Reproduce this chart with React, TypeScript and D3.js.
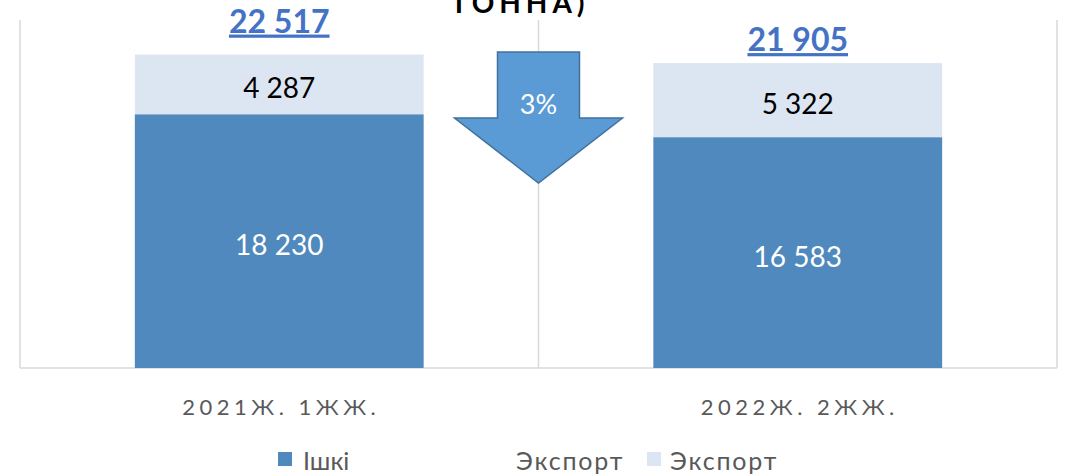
import React from 'react';
import * as d3 from 'd3';

const categories = ['2021Ж. 1ЖЖ.', '2022Ж. 2ЖЖ.'];
const domestic = [18230, 16583];
const exportVals = [4287, 5322];
const totals = [22517, 21905];
const legendLabels = ['Ішкі', 'Экспорт', 'Экспорт'];
const changeLabel = '3%';
const titleTail = 'ТОННА)';

const W = 1074;
const H = 476;
const fmt = (v: number) => d3.format(',')(v).replace(/,/g, ' ');

const App = () => {
  const left = 20, right = 1057, top = 20, bottom = 368;

  const x = d3.scaleBand<string>()
    .domain(categories)
    .range([left, right])
    .paddingInner(0.443)
    .paddingOuter(0.2215);

  const y = d3.scaleLinear().domain([0, 25000]).range([bottom, top]);

  const stackData = categories.map((c, i) => ({ cat: c, domestic: domestic[i], exp: exportVals[i] }));
  const series = d3.stack<any>().keys(['domestic', 'exp'])(stackData);
  const colors = ['#4F89BD', '#DCE6F2'];
  const textColors = ['#ffffff', '#000000'];
  const totalDy = [22, 12];

  // arrow between the bars
  const cx = (left + right) / 2;
  const arrow = [
    [cx - 41, 52], [cx + 41, 52], [cx + 41, 118], [cx + 84, 118],
    [cx, 183], [cx - 84, 118], [cx - 41, 118],
  ];

  const font = 'Lato, "Open Sans", sans-serif';

  return (
    <div>
      <style>{'body{margin:0}'}</style>
      <svg width={W} height={H} style={{ display: 'block', background: '#fff' }}>
        {/* frame / category separators */}
        {[left, cx, right].map((gx, i) => (
          <line key={i} x1={gx} x2={gx} y1={top} y2={bottom} stroke="#D9D9D9" strokeWidth={1.5} />
        ))}
        <line x1={left} x2={right} y1={bottom} y2={bottom} stroke="#D9D9D9" strokeWidth={1.5} />

        <text x={520} y={13} textAnchor="middle" fontFamily={font} fontWeight={700}
          fontSize={28} letterSpacing={5} fill="#000">{titleTail}</text>

        {series.map((s, si) => (
          <g key={si}>
            {s.map((d, i) => {
              const bx = x(categories[i])!;
              const y0 = y(d[0]), y1 = y(d[1]);
              return (
                <g key={i}>
                  <rect x={bx} y={y1} width={x.bandwidth()} height={y0 - y1} fill={colors[si]} />
                  <text x={bx + x.bandwidth() / 2} y={(y0 + y1) / 2 + 3} textAnchor="middle"
                    dominantBaseline="central" fontFamily={font} fontSize={28} fill={textColors[si]}>
                    {fmt(d[1] - d[0])}
                  </text>
                </g>
              );
            })}
          </g>
        ))}

        {totals.map((t, i) => (
          <text key={i} x={x(categories[i])! + x.bandwidth() / 2} y={y(t) - totalDy[i]}
            textAnchor="middle" fontFamily={font} fontWeight={700} fontSize={32}
            fill="#4472C4" textDecoration="underline">{fmt(t)}</text>
        ))}

        <polygon points={arrow.map(p => p.join(',')).join(' ')} fill="#5B9BD5"
          stroke="#41719C" strokeWidth={1.5} />
        <text x={cx} y={103} textAnchor="middle" dominantBaseline="central"
          fontFamily={font} fontSize={27} fill="#fff">{changeLabel}</text>

        {categories.map((c, i) => (
          <text key={i} x={x(c)! + x.bandwidth() / 2 + 2} y={415} textAnchor="middle"
            fontFamily={font} fontSize={22} letterSpacing={4.5} fill="#595959">{c}</text>
        ))}

        {/* legend */}
        <g fontFamily={font} fontSize={25} fill="#595959">
          <rect x={278} y={452} width={14} height={14} fill={colors[0]} />
          <text x={303} y={470}>{legendLabels[0]}</text>
          <text x={516} y={470} letterSpacing={1.8}>{legendLabels[1]}</text>
          <rect x={647} y={452} width={14} height={14} fill={colors[1]} />
          <text x={670} y={470} letterSpacing={1.8}>{legendLabels[2]}</text>
        </g>
      </svg>
    </div>
  );
};

export default App;
